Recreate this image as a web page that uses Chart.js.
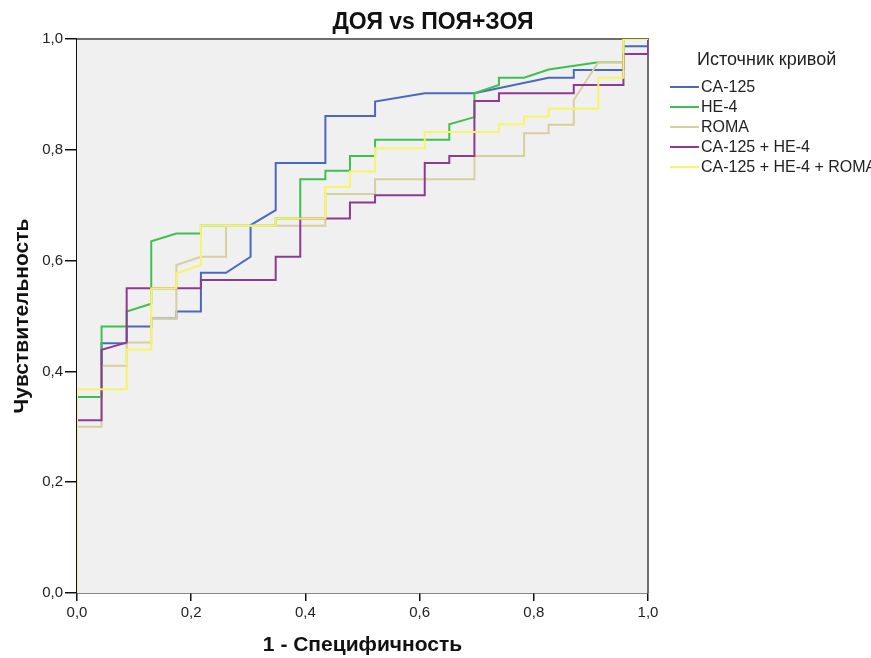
<!DOCTYPE html>
<html>
<head>
<meta charset="utf-8">
<script src="https://cdn.jsdelivr.net/npm/chart.js@4/dist/chart.umd.min.js"></script>
<style>
  html, body { margin: 0; padding: 0; background: #fff; }
  #wrap { width: 871px; height: 658px; }
</style>
</head>
<body>
<div id="wrap"><canvas id="roc" width="871" height="658"></canvas></div>
<script>
// ROC curves: 1 - specificity (x) against sensitivity (y)
const seriesNames = ['CA-125', 'HE-4', 'ROMA', 'CA-125 + HE-4', 'CA-125 + HE-4 + ROMA'];
const seriesColors = ['#4a68c0', '#3ec050', '#d6cf9e', '#8e3a90', '#f6f468'];
const axisTicks = [0, 0.2, 0.4, 0.6, 0.8, 1.0];

const ca125Fpr = [0, 0, 0.043, 0.043, 0.087, 0.087, 0.130, 0.130, 0.174, 0.174, 0.217, 0.217, 0.261, 0.304, 0.304, 0.348, 0.348, 0.435, 0.435, 0.522, 0.522, 0.609, 0.696, 0.826, 0.870, 0.870, 0.957, 0.957, 1, 1];
const ca125Tpr = [0, 0.354, 0.354, 0.451, 0.451, 0.481, 0.481, 0.496, 0.496, 0.508, 0.508, 0.578, 0.578, 0.607, 0.664, 0.691, 0.776, 0.776, 0.861, 0.861, 0.887, 0.902, 0.902, 0.930, 0.930, 0.944, 0.944, 0.987, 0.987, 1];

const he4Fpr = [0, 0, 0.043, 0.043, 0.087, 0.087, 0.130, 0.130, 0.174, 0.217, 0.217, 0.348, 0.348, 0.391, 0.391, 0.435, 0.435, 0.478, 0.478, 0.522, 0.522, 0.652, 0.652, 0.696, 0.696, 0.739, 0.739, 0.783, 0.826, 0.913, 0.957, 0.957, 1];
const he4Tpr = [0, 0.354, 0.354, 0.481, 0.481, 0.508, 0.522, 0.635, 0.649, 0.649, 0.663, 0.663, 0.676, 0.676, 0.747, 0.747, 0.762, 0.762, 0.789, 0.789, 0.818, 0.818, 0.846, 0.859, 0.902, 0.917, 0.930, 0.930, 0.945, 0.958, 0.958, 1, 1];

const romaFpr = [0, 0, 0.043, 0.043, 0.087, 0.087, 0.130, 0.130, 0.174, 0.174, 0.217, 0.261, 0.261, 0.435, 0.435, 0.522, 0.522, 0.696, 0.696, 0.783, 0.783, 0.826, 0.826, 0.870, 0.870, 0.913, 0.957, 0.957, 1];
const romaTpr = [0, 0.300, 0.300, 0.410, 0.410, 0.452, 0.452, 0.496, 0.496, 0.592, 0.607, 0.607, 0.663, 0.663, 0.720, 0.720, 0.747, 0.747, 0.789, 0.789, 0.830, 0.830, 0.845, 0.845, 0.890, 0.958, 0.958, 1, 1];

const caHeFpr = [0, 0, 0.043, 0.043, 0.087, 0.087, 0.217, 0.217, 0.348, 0.348, 0.391, 0.391, 0.478, 0.478, 0.522, 0.522, 0.609, 0.609, 0.652, 0.652, 0.696, 0.696, 0.739, 0.739, 0.870, 0.870, 0.957, 0.957, 1, 1];
const caHeTpr = [0, 0.312, 0.312, 0.439, 0.452, 0.550, 0.550, 0.565, 0.565, 0.607, 0.607, 0.676, 0.676, 0.705, 0.705, 0.718, 0.718, 0.776, 0.776, 0.789, 0.789, 0.888, 0.888, 0.902, 0.902, 0.917, 0.917, 0.973, 0.973, 1];

const caHeRomaFpr = [0, 0, 0.087, 0.087, 0.130, 0.130, 0.174, 0.174, 0.217, 0.217, 0.348, 0.348, 0.435, 0.435, 0.478, 0.478, 0.522, 0.522, 0.609, 0.609, 0.739, 0.739, 0.783, 0.783, 0.826, 0.826, 0.913, 0.913, 0.957, 0.957, 1];
const caHeRomaTpr = [0, 0.368, 0.368, 0.439, 0.439, 0.550, 0.550, 0.577, 0.592, 0.663, 0.663, 0.676, 0.676, 0.733, 0.733, 0.761, 0.761, 0.803, 0.803, 0.832, 0.832, 0.846, 0.846, 0.860, 0.860, 0.874, 0.874, 0.930, 0.930, 1, 1];

const curves = [
  [ca125Fpr, ca125Tpr],
  [he4Fpr, he4Tpr],
  [romaFpr, romaTpr],
  [caHeFpr, caHeTpr],
  [caHeRomaFpr, caHeRomaTpr]
];

const FONT = '"Liberation Sans", Arial, sans-serif';
const commaLabel = v => v.toFixed(1).replace('.', ',');

// grey plot background with a thin frame
const plotFrame = {
  id: 'plotFrame',
  beforeDatasetsDraw(chart) {
    const { ctx, chartArea: a } = chart;
    ctx.save();
    ctx.fillStyle = '#f0f0f0';
    ctx.fillRect(a.left, a.top, a.right - a.left, a.bottom - a.top);
    ctx.strokeStyle = '#6e6e6e';
    ctx.lineWidth = 2;
    ctx.beginPath();
    ctx.moveTo(a.left, a.top);
    ctx.lineTo(a.right, a.top);
    ctx.lineTo(a.right, a.bottom);
    ctx.stroke();
    ctx.restore();
  }
};

// chart title and the legend box on the right
const sideLegend = {
  id: 'sideLegend',
  afterDraw(chart) {
    const { ctx } = chart;
    ctx.save();
    ctx.fillStyle = '#111';
    ctx.font = 'bold 23px ' + FONT;
    ctx.textAlign = 'center';
    ctx.textBaseline = 'middle';
    ctx.fillText('ДОЯ vs ПОЯ+ЗОЯ', 433, 23);

    ctx.textAlign = 'left';
    ctx.fillStyle = '#222';
    ctx.font = '18px ' + FONT;
    ctx.fillText('Источник кривой', 697, 60);

    ctx.font = '16px ' + FONT;
    chart.data.datasets.forEach((ds, i) => {
      const y = 87 + i * 20;
      ctx.strokeStyle = ds.borderColor;
      ctx.lineWidth = 2;
      ctx.beginPath();
      ctx.moveTo(670, y);
      ctx.lineTo(699, y);
      ctx.stroke();
      ctx.fillStyle = '#222';
      ctx.fillText(ds.label, 701, y + 1);
    });
    ctx.restore();
  }
};

const datasets = seriesNames.map((name, i) => ({
  label: name,
  data: curves[i][0].map((x, k) => ({ x: x, y: curves[i][1][k] })),
  borderColor: seriesColors[i],
  backgroundColor: seriesColors[i],
  borderWidth: 2,
  pointRadius: 0,
  tension: 0,
  fill: false,
  order: seriesNames.length - i
}));

new Chart(document.getElementById('roc'), {
  type: 'line',
  data: { datasets },
  options: {
    responsive: false,
    animation: false,
    layout: { padding: { top: 39, right: 223, left: 0, bottom: 0 } },
    plugins: {
      legend: { display: false },
      tooltip: { enabled: false },
      title: { display: false }
    },
    scales: {
      x: {
        type: 'linear',
        min: 0,
        max: 1,
        afterFit: s => { s.height = 65; },
        afterBuildTicks: s => { s.ticks = axisTicks.map(v => ({ value: v })); },
        ticks: { callback: commaLabel, font: { family: FONT, size: 15 }, color: '#222', padding: 3, maxRotation: 0 },
        grid: { drawOnChartArea: false, drawTicks: true, tickLength: 8, color: '#111', lineWidth: 1.5 },
        border: { color: '#111', width: 1.5 },
        title: { display: true, text: '1 - Специфичность', font: { family: FONT, size: 21, weight: 'bold' }, color: '#111', padding: { top: 0, bottom: 0 } }
      },
      y: {
        type: 'linear',
        min: 0,
        max: 1,
        afterFit: s => { s.width = 77; },
        afterBuildTicks: s => { s.ticks = axisTicks.map(v => ({ value: v })); },
        ticks: { callback: commaLabel, font: { family: FONT, size: 15 }, color: '#222', padding: 2 },
        grid: { drawOnChartArea: false, drawTicks: true, tickLength: 12, color: '#111', lineWidth: 1.5 },
        border: { color: '#111', width: 1.5 },
        title: { display: true, text: 'Чувствительность', font: { family: FONT, size: 21, weight: 'bold' }, color: '#111', padding: { top: 10, bottom: 0 } }
      }
    }
  },
  plugins: [plotFrame, sideLegend]
});
</script>
</body>
</html>
